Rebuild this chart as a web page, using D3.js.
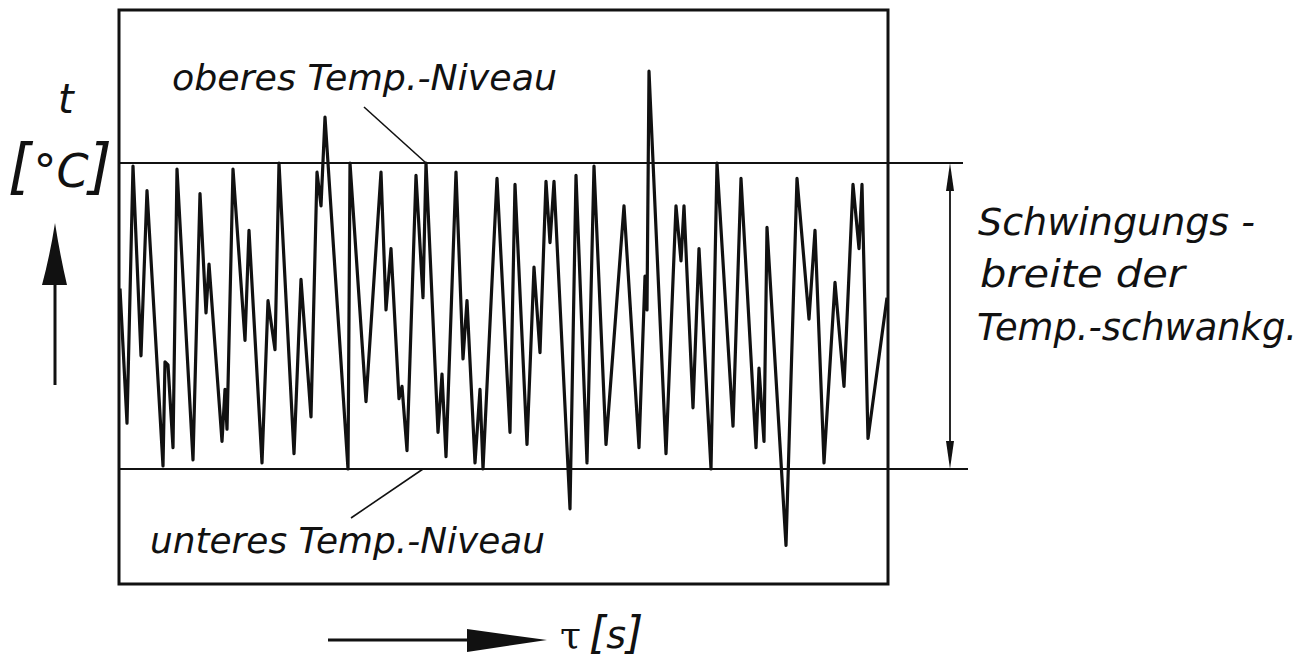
<!DOCTYPE html>
<html>
<head>
<meta charset="utf-8">
<script src="https://cdn.jsdelivr.net/npm/d3@7"></script>
<style>
  html, body { margin: 0; padding: 0; background: #fff; }
  svg { display: block; }
  text { font-family: "DejaVu Sans", sans-serif; fill: #111; }
</style>
</head>
<body>
<svg id="chart" width="1310" height="660"></svg>
<script>
// Time axis (arbitrary seconds) of the recorded temperature trace
const tau = [
  0.1, 0.8, 1.4, 2.2, 2.8, 4.4, 4.6, 4.9, 5.4, 5.8,
  7.4, 8.1, 8.7, 9.0, 10.3, 10.6, 10.8, 11.4, 12.6, 13.0,
  14.3, 14.9, 15.6, 16.0, 17.5, 18.2, 19.2, 19.8, 20.2, 20.6,
  22.9, 23.1, 24.7, 26.2, 26.7, 27.2, 28.0, 28.3, 28.8, 29.7,
  30.4, 30.7, 31.9, 32.3, 32.7, 33.7, 34.4, 34.8, 35.6, 36.1,
  36.4, 37.8, 39.1, 39.6, 40.8, 41.5, 42.1, 42.7, 43.1, 43.5,
  45.1, 45.7, 46.8, 47.5, 48.7, 50.5, 52.0, 52.6, 52.8, 53.0,
  54.7, 55.7, 56.2, 56.5, 57.4, 58.0, 59.2, 59.8, 61.4, 62.2,
  63.7, 64.0, 64.5, 64.8, 66.7, 67.8, 69.0, 69.6, 70.5, 71.6,
  72.5, 73.4, 74.0, 74.3, 74.9, 76.8
];
// Temperature, as % of the oscillation width (0 = lower level, 100 = upper level)
const temp = [
  59, 15, 99, 37, 91, 1, 35, 34, 7, 98,
  3, 90, 51, 67, 9, 26, 13, 98, 42, 78,
  2, 55, 39, 100, 5, 62, 17, 97, 86, 115,
  0, 100, 22, 97, 52, 72, 23, 27, 6, 96,
  56, 100, 12, 31, 4, 97, 36, 55, 2, 26,
  0, 95, 12, 93, 8, 66, 38, 94, 74, 94,
  -13, 96, 2, 99, 8, 86, 7, 63, 52, 130,
  5, 86, 68, 86, 20, 72, 0, 100, 14, 95,
  7, 33, 9, 79, -25, 95, 49, 78, 2, 61,
  27, 93, 72, 93, 10, 56
];
// Reference levels
const levels = [
  { name: "unteres Temp.-Niveau", value: 0 },
  { name: "oberes Temp.-Niveau", value: 100 }
];
const tauDomain = [0, 76.9];
const tempDomain = [0, 100];

const svg = d3.select("#chart");
const ink = "#111";

const box = { left: 119, right: 888, top: 10, bottom: 584 };
const x = d3.scaleLinear().domain(tauDomain).range([box.left, box.right]);
const y = d3.scaleLinear().domain(tempDomain).range([469, 163]);

// Frame
svg.append("rect")
  .attr("x", box.left).attr("y", box.top)
  .attr("width", box.right - box.left).attr("height", box.bottom - box.top)
  .attr("fill", "none").attr("stroke", ink).attr("stroke-width", 3);

// Level lines, extended beyond the frame for the dimension arrow
const levelEnd = { 100: 963, 0: 968 };
svg.selectAll("line.level").data(levels).enter().append("line")
  .attr("class", "level")
  .attr("x1", box.left).attr("x2", d => levelEnd[d.value])
  .attr("y1", d => y(d.value)).attr("y2", d => y(d.value))
  .attr("stroke", ink).attr("stroke-width", 2.2);

// Temperature trace
const series = tau.map((t, i) => [t, temp[i]]);
svg.append("path")
  .datum(series)
  .attr("fill", "none").attr("stroke", ink)
  .attr("stroke-width", 3.2).attr("stroke-linejoin", "round")
  .attr("d", d3.line().x(d => x(d[0])).y(d => y(d[1])));

// Level annotations with leader lines
const italic = sel => sel.attr("font-style", "italic");
svg.append("text").call(italic)
  .attr("x", 172).attr("y", 90).attr("font-size", 35)
  .attr("textLength", 385).attr("lengthAdjust", "spacingAndGlyphs")
  .text(levels[1].name);
svg.append("line")
  .attr("x1", 364).attr("y1", 107).attr("x2", x(30.7)).attr("y2", y(100))
  .attr("stroke", ink).attr("stroke-width", 1.6);

svg.append("text").call(italic)
  .attr("x", 150).attr("y", 553).attr("font-size", 35)
  .attr("textLength", 395).attr("lengthAdjust", "spacingAndGlyphs")
  .text(levels[0].name);
svg.append("line")
  .attr("x1", 351).attr("y1", 518).attr("x2", 423).attr("y2", y(0))
  .attr("stroke", ink).attr("stroke-width", 1.6);

// Dimension arrow for the oscillation width
const dimX = 950;
svg.append("line")
  .attr("x1", dimX).attr("x2", dimX)
  .attr("y1", y(100) + 10).attr("y2", y(0) - 10)
  .attr("stroke", ink).attr("stroke-width", 1.8);
[[y(100), 1], [y(0), -1]].forEach(([tipY, dir]) => {
  svg.append("path")
    .attr("d", `M${dimX},${tipY} L${dimX - 4},${tipY + dir * 28} L${dimX + 4},${tipY + dir * 28} Z`)
    .attr("fill", ink);
});

const rightLines = [
  { t: "Schwingungs -", x: 978, y: 235, w: 277 },
  { t: "breite  der", x: 980, y: 287, w: 205 },
  { t: "Temp.-schwankg.", x: 977, y: 340, w: 320 }
];
svg.selectAll("text.dim").data(rightLines).enter().append("text")
  .attr("class", "dim").call(italic)
  .attr("x", d => d.x).attr("y", d => d.y).attr("font-size", 37)
  .attr("textLength", d => d.w).attr("lengthAdjust", "spacingAndGlyphs")
  .text(d => d.t);

// Y axis label and arrow
svg.append("text").call(italic)
  .attr("x", 58).attr("y", 113).attr("font-size", 40).text("t");
const yl = svg.append("text").call(italic)
  .attr("x", 8).attr("y", 187);
yl.append("tspan").attr("font-size", 60).text("[");
yl.append("tspan").attr("font-size", 46).attr("dx", 2).text("°C");
yl.append("tspan").attr("font-size", 60).text("]");

svg.append("line")
  .attr("x1", 55).attr("x2", 55).attr("y1", 385).attr("y2", 280)
  .attr("stroke", ink).attr("stroke-width", 3);
svg.append("path")
  .attr("d", "M55,223 Q50,255 42,285 L67,285 Q60,255 55,223 Z")
  .attr("fill", ink);

// X axis arrow and label
svg.append("line")
  .attr("x1", 328).attr("x2", 470).attr("y1", 640).attr("y2", 640)
  .attr("stroke", ink).attr("stroke-width", 3);
svg.append("path")
  .attr("d", "M467,629 L547,640 L467,652 Z")
  .attr("fill", ink);
const xl = svg.append("text").attr("x", 560).attr("y", 648);
xl.append("tspan").attr("font-size", 38).attr("font-family", "DejaVu Serif").text("τ");
xl.append("tspan").attr("font-size", 44).attr("dx", 8).attr("font-style", "italic").text("[");
xl.append("tspan").attr("font-size", 38).attr("font-style", "italic").text("s");
xl.append("tspan").attr("font-size", 44).attr("font-style", "italic").text("]");
</script>
</body>
</html>
